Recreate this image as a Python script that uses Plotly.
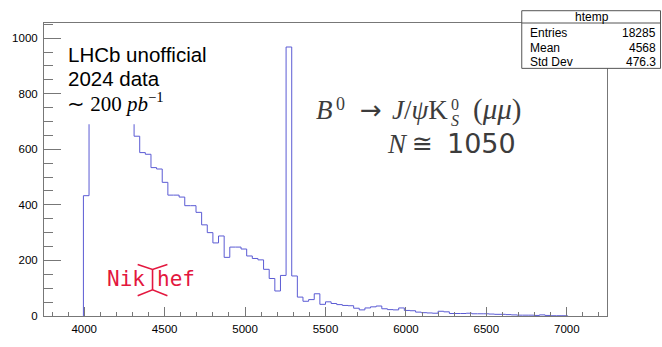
import numpy as np
import plotly.graph_objects as go

# ---------------- data (histogram "htemp") ----------------
X_MIN, X_MAX, N_BINS = 3750, 7250, 100
FIRST_FILLED_BIN = 7          # bin starting at 3995
COUNTS = [
    433,
    700, 760, 820, 860, 900, 1004, 850, 740,
    647, 588, 582, 534, 529, 481,
    435, 435, 428, 397, 397, 373,
    328, 300, 263, 288, 211, 248, 248,
    241, 216, 207, 202, 168, 135, 90, 146,
    968, 144, 68, 53, 59, 80, 42, 51,
    45, 41, 38, 37, 28, 22, 29, 33, 36, 26,
    23, 22, 29, 20, 19, 14, 12, 11, 10, 17,
    15, 9, 9, 9, 10, 8, 8, 8, 7, 6,
    6, 5, 4, 3, 3, 3, 2, 4, 2, 1, 1, 1,
]
X_TICK_STEP, X_MINOR_STEP = 500, 100
Y_TICK_STEP, Y_MINOR_STEP = 200, 50
Y_MAX = 1054.4
STATS_TITLE = "htemp"
STATS_LABELS = ["Entries", "Mean", "Std Dev"]
STATS_VALUES = ["18285", "4568", "476.3"]

# ---------------- geometry helpers ----------------
W, H = 662, 347
L, R, T, B = 39, 607, 23, 333


def px(x):
    return (x - L) / (R - L)


def py(y):
    return (B - y) / (B - T)


edges = X_MIN + (X_MAX - X_MIN) / N_BINS * np.arange(N_BINS + 1)
lo = edges[FIRST_FILLED_BIN:FIRST_FILLED_BIN + len(COUNTS)]
hi_end = edges[FIRST_FILLED_BIN + len(COUNTS)]
hx = [lo[0]] + list(lo) + [hi_end, hi_end]
hy = [0] + COUNTS + [COUNTS[-1], 0]

fig = go.Figure()
fig.add_trace(go.Scatter(
    x=hx, y=hy, mode="lines", line=dict(color="#5b5bd4", width=1, shape="hv"),
    hoverinfo="skip", showlegend=False,
))

AX = "#777777"
fig.update_layout(
    width=W, height=H,
    margin=dict(l=L, r=W - R, t=T, b=H - B, pad=0),
    paper_bgcolor="white", plot_bgcolor="white",
    showlegend=False,
    xaxis=dict(
        range=[X_MIN, X_MAX], tickmode="linear", tick0=0, dtick=X_TICK_STEP,
        ticks="inside", ticklen=9, tickwidth=1, tickcolor=AX,
        minor=dict(dtick=X_MINOR_STEP, tick0=0, ticks="inside", ticklen=4.5, tickcolor=AX, tickwidth=1),
        showgrid=False, zeroline=False, showline=True, linecolor=AX, linewidth=1, mirror=True,
        tickfont=dict(family="Liberation Sans", size=11.5, color="black"),
        ticklabelstandoff=2, layer="above traces",
    ),
    yaxis=dict(
        range=[0, Y_MAX], tickmode="linear", tick0=0, dtick=Y_TICK_STEP,
        ticks="inside", ticklen=17, tickwidth=1, tickcolor=AX,
        minor=dict(dtick=Y_MINOR_STEP, tick0=0, ticks="inside", ticklen=8.5, tickcolor=AX, tickwidth=1),
        showgrid=False, zeroline=False, showline=True, linecolor=AX, linewidth=1, mirror=True,
        tickfont=dict(family="Liberation Sans", size=11.5, color="black"),
        ticklabelstandoff=3, layer="above traces",
    ),
)

shapes = []
# white cover box behind the LHCb label
shapes.append(dict(type="rect", xref="paper", yref="paper",
                   x0=px(58), x1=px(236), y0=py(130), y1=py(28),
                   fillcolor="white", line=dict(width=0), layer="above"))
# stats box
shapes.append(dict(type="rect", xref="paper", yref="paper",
                   x0=px(521), x1=px(661), y0=py(71), y1=py(10),
                   fillcolor="white", line=dict(color="#555555", width=1), layer="above"))
shapes.append(dict(type="line", xref="paper", yref="paper",
                   x0=px(521), x1=px(661), y0=py(23), y1=py(23),
                   line=dict(color="#555555", width=1), layer="above"))
# Nikhef logo strokes
RED = "#e3173e"
for path in [
    [(133.5, 278.5), (148.5, 283.7), (163.5, 278.5)],
    [(148.5, 283.7), (148.5, 305.3)],
    [(133.5, 311.5), (148.5, 305.3), (163.5, 311.5)],
]:
    d = "M " + " L ".join(f"{px(a):.5f},{py(b):.5f}" for a, b in path)
    shapes.append(dict(type="path", xref="paper", yref="paper", path=d,
                       line=dict(color=RED, width=1.6), layer="above"))
fig.update_layout(shapes=shapes)

ann = []


def text(x, y, s, size, family="Liberation Sans", color="black", xanchor="left"):
    ann.append(dict(x=px(x), y=py(y), xref="paper", yref="paper", text=s, showarrow=False,
                    xanchor=xanchor, yanchor="middle", borderpad=0,
                    font=dict(family=family, size=size, color=color)))


text(62, 56, "LHCb unofficial", 20.5)
text(62, 82, "2024 data", 20.5)
text(61, 107, "∼ 200 <i>pb</i><sup>−1</sup>", 21, family="Liberation Serif")

G = "#3c3c3c"
SERIF = "Liberation Serif"
# B^0 -> J/psi K_S^0 (mu mu)
text(312, 115, "<i>B</i>", 27, family=SERIF, color=G)
text(333, 109, "0", 18, family=SERIF, color=G)
text(369, 115, "→", 26, family="DejaVu Sans", color=G, xanchor="center")
text(448, 115, "<i>J</i>/<i>ψ</i>K", 27, family=SERIF, color=G, xanchor="right")
text(448.5, 109.5, "0", 16, family=SERIF, color=G)
text(448.5, 126.5, "<i>S</i>", 16, family=SERIF, color=G)
text(471, 115, "(<i>μμ</i>)", 29, family=SERIF, color=G)
# N ≅ 1050
text(384, 150.5, "<i>N</i>", 27, family=SERIF, color=G)
text(421, 150.5, "≅", 25, family="DejaVu Sans", color=G, xanchor="center")
text(445, 150.5, "1050", 27, family="DejaVu Sans", color=G)

text(102, 294, "Nik", 21, family="DejaVu Sans Mono", color=RED)
text(152, 294, "hef", 21, family="DejaVu Sans Mono", color=RED)

# stats box text
text(592, 16.5, STATS_TITLE, 12, xanchor="center")
for i, (lab, val) in enumerate(zip(STATS_LABELS, STATS_VALUES)):
    yy = [33.5, 49.5, 64.5][i]
    text(528, yy, lab, 12)
    text(657, yy, val, 12, xanchor="right")

fig.update_layout(annotations=ann)
fig.write_html("out.html")
